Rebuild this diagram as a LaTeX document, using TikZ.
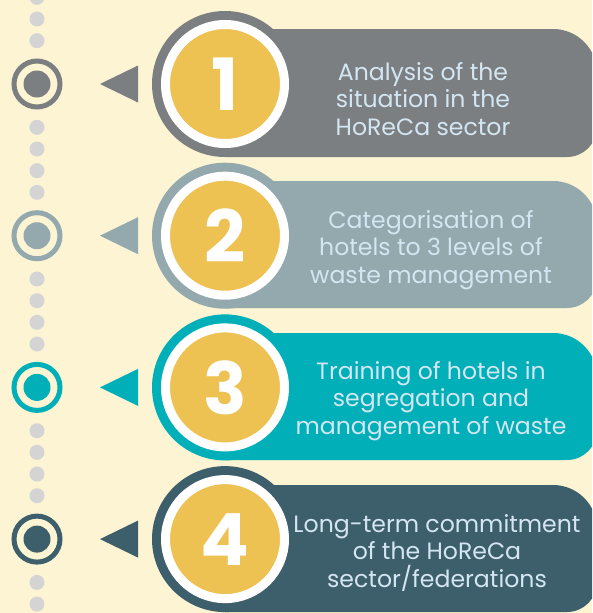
\documentclass[tikz,border=0pt]{standalone}
\usepackage{fontspec}
\setmainfont{Poppins}
\definecolor{paper}{HTML}{FCF4D3}
\definecolor{stepone}{HTML}{7C7F82}
\definecolor{steptwo}{HTML}{93A9AD}
\definecolor{stepthree}{HTML}{00AFB8}
\definecolor{stepfour}{HTML}{3D5F6B}
\definecolor{disc}{HTML}{EDC152}
\definecolor{label}{HTML}{D3E6F2}
\definecolor{dotgray}{HTML}{D4D4D4}
\begin{document}
\begin{tikzpicture}[x=1pt,y=-1pt]
    \tikzset{
        halo/.style={circle,inner sep=0pt,outer sep=0pt,minimum size=146pt},
        number/.style={
            circle,
            inner sep=0pt,
            outer sep=0pt,
            minimum size=119pt,
            fill=disc,
            draw=white,
            line width=9pt,
            text=white,
            font=\fontsize{72}{72}\selectfont\bfseries
        },
        caption/.style={
            align=center,
            text=label,
            font=\fontsize{23.6}{27.5}\selectfont
        },
        ring/.style={circle,inner sep=0pt,line width=5pt,minimum size=46pt},
        core/.style={circle,inner sep=0pt,minimum size=27pt},
        dot/.style={circle,inner sep=0pt,minimum size=15pt,fill=dotgray}
    }

    \useasboundingbox (0,0) rectangle (592,613);
    \clip (0,0) rectangle (592,613);
    \fill[paper] (0,0) rectangle (592,613);

    % timeline
    \foreach \k in {-4,-3,-2,2,3,4,5,9,10,11,12,16,17,18,19,23,24}
        \node[dot] (dot\k) at (37,84+\k*21.67) {};

    % step 1
    \fill[stepone] (225,29) -- (553,29) arc[start angle=-90,end angle=0,radius=44]
        -- (597,127) arc[start angle=0,end angle=90,radius=30] -- (225,157) -- cycle;
    \node[halo,fill=stepone] (halo1) at (225,84) {};
    \node[number] (num1) at (225,84) {1};
    \node[caption] (txt1) at (423,99) {Analysis of the\\situation in the\\HoReCa sector};
    \fill[stepone] (100,84) -- (138,65.5) -- (138,102.5) -- cycle;
    \node[ring,draw=stepone] (ring1) at (37,84) {};
    \node[core,fill=stepone] (core1) at (37,84) {};

    % step 2
    \fill[steptwo] (225,181) -- (553,181) arc[start angle=-90,end angle=0,radius=44]
        -- (597,278) arc[start angle=0,end angle=90,radius=30] -- (225,308) -- cycle;
    \node[halo,fill=steptwo] (halo2) at (225,235.7) {};
    \node[number] (num2) at (225,235.7) {2};
    \node[caption] (txt2) at (431,250) {Categorisation of\\hotels to 3 levels of\\waste management};
    \fill[steptwo] (100,235.7) -- (138,217.2) -- (138,254.2) -- cycle;
    \node[ring,draw=steptwo] (ring2) at (37,235.7) {};
    \node[core,fill=steptwo] (core2) at (37,235.7) {};

    % step 3
    \fill[stepthree] (225,333) -- (553,333) arc[start angle=-90,end angle=0,radius=44]
        -- (597,430) arc[start angle=0,end angle=90,radius=30] -- (225,460) -- cycle;
    \node[halo,fill=stepthree] (halo3) at (225,387.4) {};
    \node[number] (num3) at (225,387.4) {3};
    \node[caption] (txt3) at (431,401) {Training of hotels in\\segregation and\\management of waste};
    \fill[stepthree] (100,387.4) -- (138,368.9) -- (138,405.9) -- cycle;
    \node[ring,draw=stepthree] (ring3) at (37,387.4) {};
    \node[core,fill=stepthree] (core3) at (37,387.4) {};

    % step 4
    \fill[stepfour] (225,485) -- (553,485) arc[start angle=-90,end angle=0,radius=44]
        -- (597,582) arc[start angle=0,end angle=90,radius=30] -- (225,612) -- cycle;
    \node[halo,fill=stepfour] (halo4) at (225,539.1) {};
    \node[number] (num4) at (225,539.1) {4};
    \node[caption] (txt4) at (437,553) {Long-term commitment\\of the HoReCa\\sector/federations};
    \fill[stepfour] (100,539.1) -- (138,520.6) -- (138,557.6) -- cycle;
    \node[ring,draw=stepfour] (ring4) at (37,539.1) {};
    \node[core,fill=stepfour] (core4) at (37,539.1) {};
\end{tikzpicture}
\end{document}
